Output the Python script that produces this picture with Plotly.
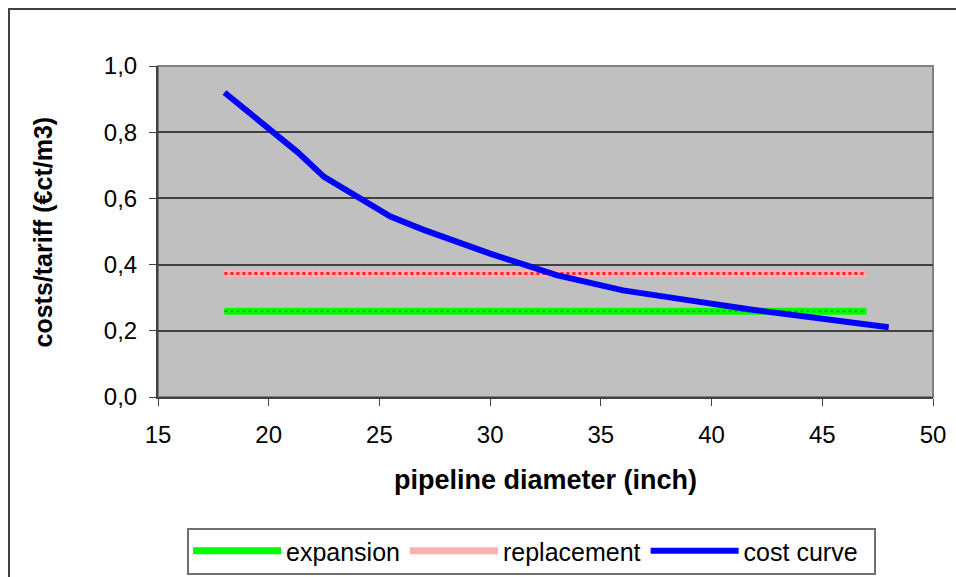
import plotly.graph_objects as go

# Data
diameter = [18, 21.3, 22.5, 25.5, 27, 30, 33, 36, 39, 42, 48]
cost_curve = [0.92, 0.74, 0.665, 0.545, 0.505, 0.433, 0.368, 0.322, 0.292, 0.262, 0.211]
flat_x = [18, 47]
expansion = [0.259, 0.259]
replacement = [0.373, 0.373]

FONT = "Arial, Liberation Sans, sans-serif"

# pixel helpers for plot geometry (plot area 158..933 x, 66..397 y)
L, R, T, B = 158, 933, 66, 397
def px_x(p):
    return (p - L) / (R - L)
def px_y(p):
    return (B - p) / (B - T)

fig = go.Figure()

# expansion band (base + texture)
fig.add_trace(go.Scatter(x=flat_x, y=expansion, mode="lines", name="expansion",
                         line=dict(color="#00FF00", width=7)))
fig.add_trace(go.Scatter(x=flat_x, y=expansion, mode="lines", showlegend=False, hoverinfo="skip",
                         line=dict(color="#00B400", width=2, dash="dot")))
# replacement band
fig.add_trace(go.Scatter(x=flat_x, y=replacement, mode="lines", name="replacement",
                         line=dict(color="#FFB0B0", width=7)))
fig.add_trace(go.Scatter(x=flat_x, y=replacement, mode="lines", showlegend=False, hoverinfo="skip",
                         line=dict(color="#FF2020", width=3, dash="dot")))
# cost curve
fig.add_trace(go.Scatter(x=diameter, y=cost_curve, mode="lines", name="cost curve",
                         line=dict(color="#0000FF", width=6)))

fig.update_layout(
    width=956, height=577,
    margin=dict(l=L, r=956 - R, t=T, b=577 - B, autoexpand=False),
    paper_bgcolor="white",
    plot_bgcolor="#C0C0C0",
    separators=", ",
    font=dict(family=FONT, size=24, color="black"),
    showlegend=True,
    legend=dict(orientation="h", x=px_x(188), y=px_y(551), xanchor="left", yanchor="middle",
                borderwidth=0, bgcolor="rgba(0,0,0,0)",
                itemwidth=88, font=dict(size=25, family=FONT)),
    xaxis=dict(range=[15, 50], dtick=5, tick0=15, showgrid=False, zeroline=False,
               showline=True, linecolor="#404040", linewidth=2, mirror=False,
               ticks="outside", ticklen=7, tickcolor="#404040", tickwidth=1,
               ticklabelstandoff=8, tickfont=dict(size=24)),
    yaxis=dict(range=[0, 1], dtick=0.2, tickformat=".1f", showgrid=True,
               gridcolor="#404040", gridwidth=1.5, zeroline=False,
               showline=True, linecolor="#404040", linewidth=2,
               ticks="outside", ticklen=7, tickcolor="#404040", tickwidth=1,
               ticklabelstandoff=7, tickfont=dict(size=24)),
    annotations=[
        dict(text="<b>pipeline diameter (inch)</b>", xref="paper", yref="paper",
             x=0.5, y=px_y(480), xanchor="center", yanchor="middle", showarrow=False,
             font=dict(size=27, family=FONT)),
        dict(text="<b>costs/tariff (€ct/m3)</b>", xref="paper", yref="paper",
             x=px_x(42), y=0.5, xanchor="center", yanchor="middle", showarrow=False,
             textangle=-90, font=dict(size=25, family=FONT)),
    ],
)

# plot area border (top/right)
fig.add_shape(type="rect", xref="paper", yref="paper", x0=0, x1=1, y0=0, y1=1,
              line=dict(color="#808080", width=2), layer="below")
# outer chart border
fig.add_shape(type="rect", xref="paper", yref="paper",
              x0=px_x(9), x1=1.2, y0=-0.7, y1=px_y(9),
              line=dict(color="#404040", width=2))
# legend frame
fig.add_shape(type="rect", xref="paper", yref="paper",
              x0=px_x(188), x1=px_x(875), y0=px_y(574), y1=px_y(529),
              line=dict(color="#707070", width=2), fillcolor="white", layer="above")

fig.write_html("out.html")
